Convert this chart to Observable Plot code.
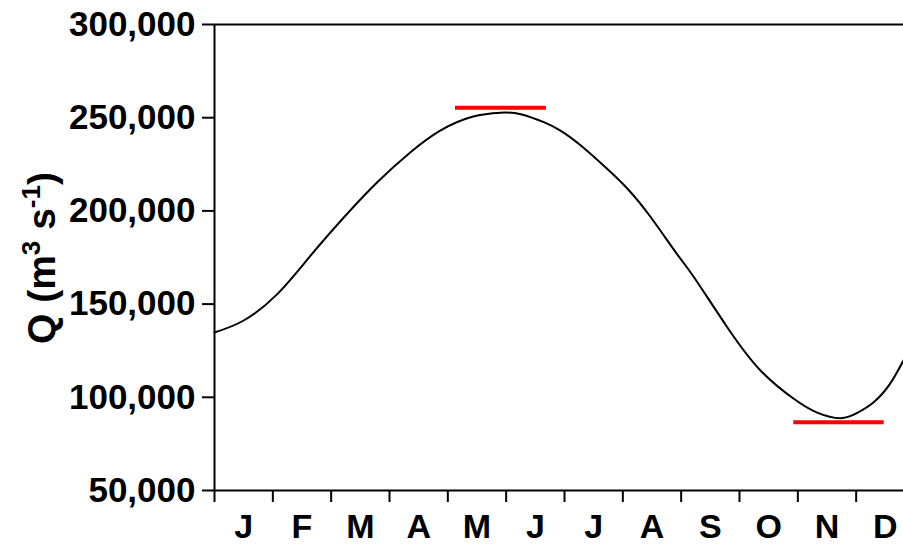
<!DOCTYPE html>
<html>
<head>
<meta charset="utf-8">
<script src="https://cdn.jsdelivr.net/npm/d3@7"></script>
<script src="https://cdn.jsdelivr.net/npm/@observablehq/plot@0.6"></script>
<style>
  html, body { margin: 0; padding: 0; background: white; }
  #chart { width: 903px; height: 545px; overflow: hidden; }
  #chart svg { overflow: hidden; }
</style>
</head>
<body>
<div id="chart"></div>
<script>
// Month labels
const months = ["J","F","M","A","M","J","J","A","S","O","N","D"];
// Y tick values
const yTicks = [50000, 100000, 150000, 200000, 250000, 300000];
// Curve: time in months since 1 Jan, discharge Q (m3/s)
const monthT = [0, 0.5, 1.08, 1.65, 2.22, 2.79, 3.36, 3.87, 4.42, 4.90, 5.25, 5.645, 5.93, 6.28, 6.73, 7.08, 7.47, 7.93, 8.22, 8.79, 9.36, 9.93, 10.33, 10.73, 11.01, 11.30, 11.58, 11.81];
const flowQ = [134800, 141200, 155500, 176100, 196600, 215400, 231500, 243100, 250500, 252700, 251900, 247600, 243100, 235100, 222600, 211900, 197000, 176800, 164400, 137600, 114400, 99200, 91800, 88800, 91500, 97400, 107200, 119700];
// Red reference bars (max / min)
const refValue = [255300, 86600];
const refStart = [4.13, 9.93];
const refEnd = [5.69, 11.48];

const curve = monthT.map((t, i) => ({t, q: flowQ[i]}));
const refs = refValue.map((v, i) => ({v, a: refStart[i], b: refEnd[i]}));

const plot = Plot.plot({
  width: 903,
  height: 545,
  marginLeft: 214,
  marginTop: 24,
  marginBottom: 55,
  marginRight: 0,
  x: {domain: [0, 12], range: [214, 914]},
  y: {domain: [50000, 300000]},
  style: {fontFamily: "'Liberation Sans', Arial, sans-serif", fontWeight: "bold", fontSize: "35px", color: "black", background: "white"},
  marks: [
    Plot.axisY({ticks: yTicks, tickSize: 12, tickPadding: 7, tickFormat: d3.format(","), label: null, strokeWidth: 2, fill: "black"}),
    Plot.axisX({ticks: d3.range(13), tickSize: 12, tickFormat: () => "", label: null, strokeWidth: 2}),
    Plot.axisX({ticks: months.map((_, i) => i + 0.5), tickSize: 0, tickPadding: 23, tickFormat: d => months[Math.floor(d)], label: null, fontSize: 34, fill: "black"}),
    Plot.ruleY([50000, 300000], {strokeWidth: 2, stroke: "black"}),
    Plot.ruleX([0], {strokeWidth: 2, stroke: "black"}),
    Plot.line(curve, {x: "t", y: "q", curve: "natural", stroke: "black", strokeWidth: 2}),
    Plot.ruleY(refs, {y: "v", x1: "a", x2: "b", stroke: "#ff0000", strokeWidth: 4})
  ]
});

document.getElementById("chart").appendChild(plot);

// Y axis title with superscripts
const svg = d3.select(plot);
const title = svg.append("text")
  .attr("transform", "translate(55,258) rotate(-90)")
  .attr("text-anchor", "middle")
  .attr("font-family", "'Liberation Sans', Arial, sans-serif")
  .attr("font-weight", "bold")
  .attr("font-size", 39)
  .attr("fill", "black");
title.append("tspan").text("Q (m");
title.append("tspan").attr("font-size", 26).attr("dy", -15).text("3");
title.append("tspan").attr("dy", 15).text(" s");
title.append("tspan").attr("font-size", 26).attr("dy", -15).text("-1");
title.append("tspan").attr("dy", 15).text(")");
</script>
</body>
</html>
